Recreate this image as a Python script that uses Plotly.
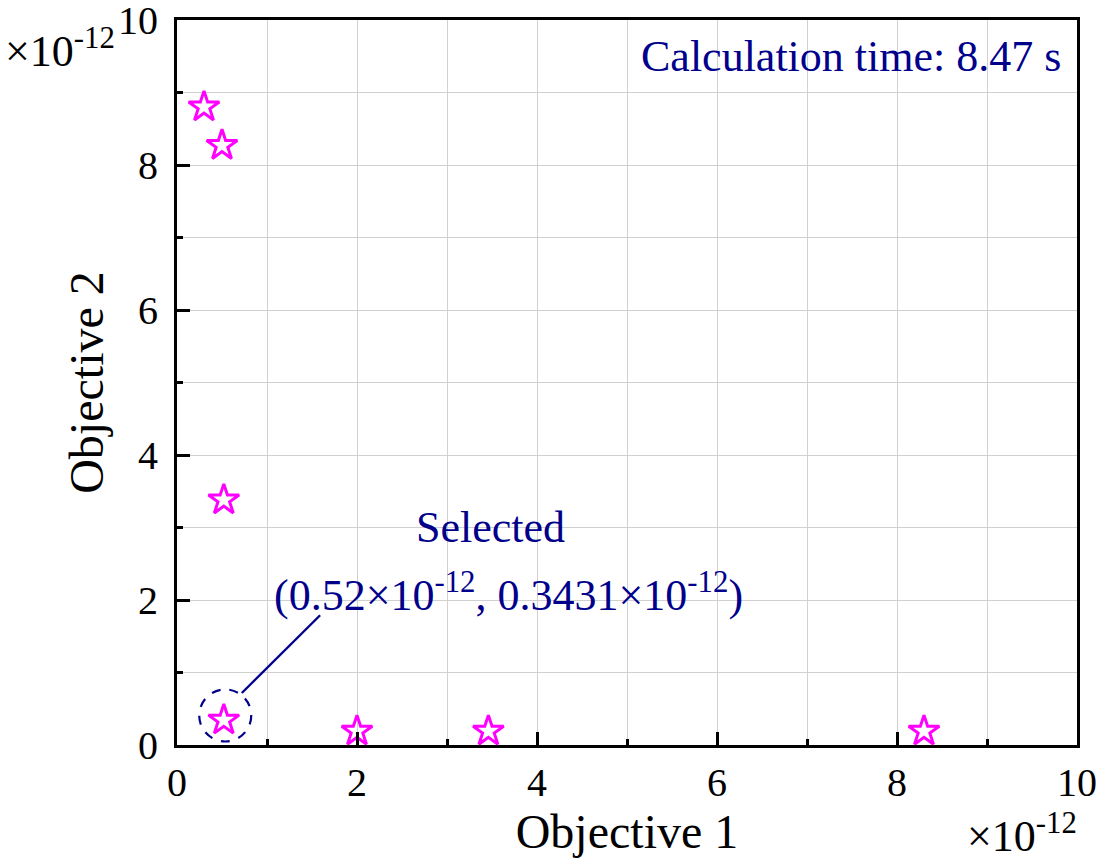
import plotly.graph_objects as go

# Pareto front solutions (in units of 1e-12)
objective_1 = [0.30, 0.50, 0.52, 0.52, 2.00, 3.46, 8.30]
objective_2 = [8.80, 8.27, 3.38, 0.3431, 0.19, 0.19, 0.19]

selected_x = 0.52
selected_y = 0.3431
calc_time_s = 8.47

x_ticks = [0, 2, 4, 6, 8, 10]
y_ticks = [0, 2, 4, 6, 8, 10]

SERIF = "Liberation Serif, Times New Roman, serif"
NAVY = "#00008B"
MAGENTA = "#FF00FF"

fig = go.Figure()
fig.add_trace(go.Scatter(
    x=objective_1, y=objective_2, mode="markers",
    marker=dict(symbol="star-open", size=23, color=MAGENTA,
                line=dict(color=MAGENTA, width=3)),
    showlegend=False, hoverinfo="x+y", cliponaxis=False,
))

axis_common = dict(
    range=[0, 10], dtick=2, tick0=0,
    ticks="inside", ticklen=13, tickwidth=3, tickcolor="black",
    showline=True, linewidth=3, linecolor="black", mirror=True,
    showgrid=True, gridcolor="#d0d0d0", gridwidth=1,
    zeroline=False, automargin=False,
    ticklabeloverflow="allow",
    tickfont=dict(family=SERIF, size=40, color="black"),
    minor=dict(dtick=1, ticks="inside", ticklen=6, tickwidth=3,
               tickcolor="black", showgrid=True, gridcolor="#d0d0d0",
               gridwidth=1),
)

fig.update_xaxes(**axis_common, tickvals=x_ticks,
                 ticktext=[str(v) for v in x_ticks],
                 title=dict(text="Objective 1",
                            font=dict(family=SERIF, size=48, color="black"),
                            standoff=2))
fig.update_yaxes(**axis_common, tickvals=y_ticks,
                 ticktext=[str(v) for v in y_ticks],
                 ticklabelstandoff=8,
                 title=dict(text="Objective 2",
                            font=dict(family=SERIF, size=48, color="black"),
                            standoff=0))

# dashed ring around the selected solution and its leader line
fig.add_shape(type="circle", xref="x", yref="y",
              x0=selected_x + 0.016 - 0.289, x1=selected_x + 0.016 + 0.289,
              y0=selected_y + 0.064 - 0.359, y1=selected_y + 0.064 + 0.359,
              line=dict(color=NAVY, width=2.2, dash="dash"))
fig.add_shape(type="line", xref="x", yref="y",
              x0=0.72, y0=0.717, x1=1.59, y1=1.79,
              line=dict(color=NAVY, width=2.4))

fig.add_annotation(x=3.48, y=3.0, xref="x", yref="y", showarrow=False,
                   text="Selected",
                   font=dict(family=SERIF, size=44, color=NAVY))
fig.add_annotation(x=3.68, y=2.11, xref="x", yref="y", showarrow=False,
                   text=f"({selected_x:.2f}×10<sup>-12</sup>, "
                        f"{selected_y:.4f}×10<sup>-12</sup>)",
                   font=dict(family=SERIF, size=44, color=NAVY))
fig.add_annotation(x=9.845, y=9.49, xref="x", yref="y", showarrow=False,
                   xanchor="right",
                   text=f"Calculation time: {calc_time_s} s",
                   font=dict(family=SERIF, size=44, color=NAVY))

# axis exponent labels
fig.add_annotation(x=0.0, xref="paper", xanchor="right", xshift=-60,
                   y=1.0, yref="paper", yanchor="middle", yshift=-28,
                   showarrow=False, text="×10<sup>-12</sup>",
                   font=dict(family=SERIF, size=44, color="black"))
fig.add_annotation(x=1.0, xref="paper", xanchor="right", xshift=2,
                   y=0.0, yref="paper", yanchor="middle", yshift=-88,
                   showarrow=False, text="×10<sup>-12</sup>",
                   font=dict(family=SERIF, size=44, color="black"))

fig.update_layout(
    width=1103, height=860,
    margin=dict(l=177, r=26, t=20, b=115),
    plot_bgcolor="white", paper_bgcolor="white",
    font=dict(family=SERIF, color="black"),
)

fig.write_html("out.html")
